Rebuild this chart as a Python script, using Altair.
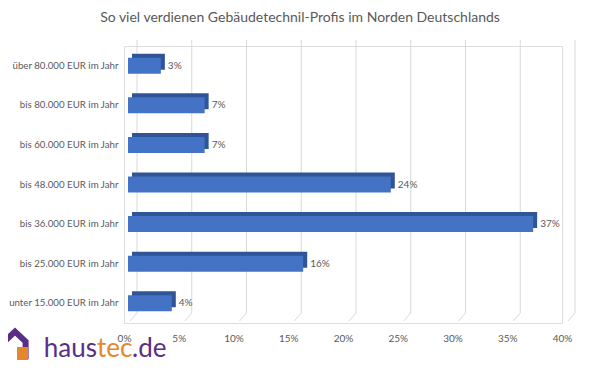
import altair as alt
import pandas as pd

categories = [
    "über 80.000 EUR im Jahr",
    "bis 80.000 EUR im Jahr",
    "bis 60.000 EUR im Jahr",
    "bis 48.000 EUR im Jahr",
    "bis 36.000 EUR im Jahr",
    "bis 25.000 EUR im Jahr",
    "unter 15.000 EUR im Jahr",
]
values = [3, 7, 7, 24, 37, 16, 4]
value_labels = ["3%", "7%", "7%", "24%", "37%", "16%", "4%"]
tick_values = [0, 5, 10, 15, 20, 25, 30, 35, 40]
title_text = "So viel verdienen Gebäudetechnil-Profis im Norden Deutschlands"

df = pd.DataFrame({"cat": categories, "value": values, "label": value_labels,
                   "zero": [0] * len(values)})
grid = pd.DataFrame({"t": tick_values})
one = pd.DataFrame({"a": [0]})

GREY = "#595959"
FRONT = "#4472c4"
BACK = "#2f5597"
PURPLE = "#5b2e86"
ORANGE = "#e8862c"

xscale = alt.Scale(domain=[0, 40], nice=False, zero=True)
yscale = alt.Scale(domain=categories, paddingInner=0, paddingOuter=0)
xaxis = alt.Axis(values=tick_values, labelExpr="datum.value + '%'", grid=False,
                 domain=False, ticks=False, title=None, labelFontSize=10,
                 labelColor=GREY, labelPadding=10, labelFont="Lato",
                 labelFlush=False, labelOverlap=False)
yaxis = alt.Axis(title=None, domain=False, ticks=False, labelFontSize=9.7,
                 labelColor=GREY, labelPadding=6, labelFont="Lato")

grid_v = alt.Chart(grid).mark_rule(color="#d9d9d9", xOffset=13, strokeWidth=1).encode(
    x=alt.X("t:Q", scale=xscale, axis=xaxis),
    y=alt.value(-6), y2=alt.value(267))
grid_d = alt.Chart(grid).mark_rule(color="#d9d9d9", xOffset=13, x2Offset=6, strokeWidth=1).encode(
    x=alt.X("t:Q", scale=xscale, axis=xaxis), x2=alt.X2("t"),
    y=alt.value(267), y2=alt.value(275))

back = alt.Chart(df).mark_bar(color=BACK, size=16, xOffset=8, x2Offset=8,
                              yOffset=-4, y2Offset=-4).encode(
    x=alt.X("value:Q", scale=xscale, axis=xaxis), x2=alt.X2("zero"),
    y=alt.Y("cat:N", scale=yscale, axis=yaxis, sort=None))
front = alt.Chart(df).mark_bar(color=FRONT, size=16, xOffset=4, x2Offset=4).encode(
    x=alt.X("value:Q", scale=xscale, axis=xaxis), x2=alt.X2("zero"),
    y=alt.Y("cat:N", scale=yscale, axis=yaxis, sort=None))
vlabels = alt.Chart(df).mark_text(align="left", baseline="middle", dx=11, fontSize=10,
                                  color=GREY, font="Lato").encode(
    x=alt.X("value:Q", scale=xscale, axis=xaxis),
    y=alt.Y("cat:N", scale=yscale, axis=yaxis, sort=None),
    text="label:N")

title = alt.Chart(one).mark_text(align="center", baseline="middle", fontSize=14,
                                 color=GREY, font="Lato").encode(
    x=alt.value(176), y=alt.value(-28), text=alt.value(title_text))

LOGO_Y = 311
logo_haus = alt.Chart(one).mark_text(align="right", baseline="alphabetic", fontSize=26,
                                     color=PURPLE, font="Lato").encode(
    x=alt.value(-27), y=alt.value(LOGO_Y), text=alt.value("haus"))
logo_tec = alt.Chart(one).mark_text(align="left", baseline="alphabetic", fontSize=26,
                                    color=ORANGE, font="Lato").encode(
    x=alt.value(-27), y=alt.value(LOGO_Y), text=alt.value("tec"))
logo_de = alt.Chart(one).mark_text(align="left", baseline="alphabetic", fontSize=26,
                                   color=PURPLE, font="Lato").encode(
    x=alt.value(8), y=alt.value(LOGO_Y), text=alt.value(".de"))
house = alt.Chart(one).mark_point(
    shape="M-0.75,1 L-0.75,-0.25 L0,-0.95 L0.75,-0.25 L0.75,1",
    filled=False, stroke=PURPLE, strokeWidth=6, size=800, opacity=1).encode(
    x=alt.value(-109), y=alt.value(299))
house_o = alt.Chart(one).mark_rect(color=ORANGE).encode(
    x=alt.value(-107), x2=alt.value(-96), y=alt.value(301), y2=alt.value(314))

chart = alt.layer(grid_v, grid_d, back, front, vlabels, title, house, house_o,
                  logo_haus, logo_tec, logo_de).properties(
    width=438, height=277,
    autosize=alt.AutoSizeParams(type="none"),
    padding={"left": 116, "top": 38, "right": 30, "bottom": 39},
).configure_view(stroke=None).configure(font="Lato", background="white")

chart.save("out.html", embed_options={"renderer": "svg", "actions": False})
